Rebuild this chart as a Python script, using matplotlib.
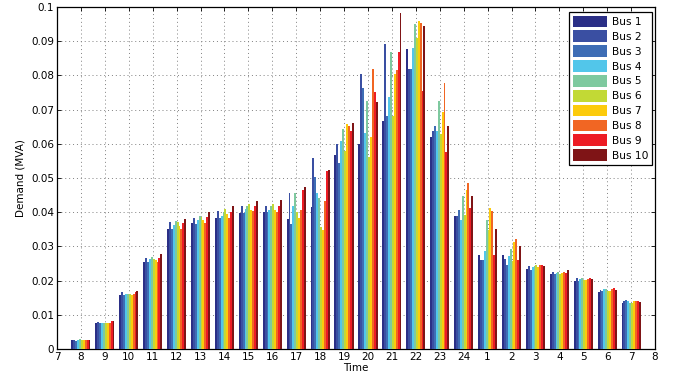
import numpy as np
import matplotlib
matplotlib.use('Agg')
import matplotlib.pyplot as plt

hours = ['8', '9', '10', '11', '12', '13', '14', '15', '16', '17', '18', '19',
         '20', '21', '22', '23', '24', '1', '2', '3', '4', '5', '6', '7']
tick_labels = ['7'] + hours + ['8']

bus_names = ['Bus %d' % i for i in range(1, 11)]
bus_colors = ['#2B2F86', '#3A4FA2', '#3E6DB5', '#52C6EA', '#7EC99F',
              '#C2D935', '#FCCB0C', '#F16623', '#ED1C24', '#7F1416']

# demand (MVA) per hour, one column per bus
demand = np.array([
    [0.0027, 0.0026, 0.0024, 0.0026, 0.0028, 0.0025, 0.0027, 0.0027, 0.0026, 0.0025],  # 8
    [0.0077, 0.0078, 0.0075, 0.0075, 0.0077, 0.0076, 0.0077, 0.0076, 0.0082, 0.0083],  # 9
    [0.0157, 0.0166, 0.0157, 0.0162, 0.0162, 0.0162, 0.0157, 0.0162, 0.0166, 0.0169],  # 10
    [0.0255, 0.0266, 0.0255, 0.0264, 0.0269, 0.0264, 0.0260, 0.0255, 0.0266, 0.0277],  # 11
    [0.0352, 0.0370, 0.0352, 0.0362, 0.0373, 0.0371, 0.0359, 0.0352, 0.0368, 0.0381],  # 12
    [0.0368, 0.0384, 0.0366, 0.0376, 0.0388, 0.0386, 0.0376, 0.0368, 0.0386, 0.0401],  # 13
    [0.0384, 0.0403, 0.0384, 0.0388, 0.0400, 0.0410, 0.0396, 0.0384, 0.0402, 0.0418],  # 14
    [0.0398, 0.0418, 0.0398, 0.0410, 0.0418, 0.0423, 0.0405, 0.0403, 0.0418, 0.0434],  # 15
    [0.0400, 0.0417, 0.0400, 0.0405, 0.0418, 0.0423, 0.0405, 0.0400, 0.0418, 0.0437],  # 16
    [0.0379, 0.0457, 0.0366, 0.0418, 0.0457, 0.0400, 0.0384, 0.0405, 0.0466, 0.0473],  # 17
    [0.0415, 0.0559, 0.0504, 0.0457, 0.0442, 0.0357, 0.0347, 0.0434, 0.0520, 0.0522],  # 18
    [0.0568, 0.0598, 0.0544, 0.0609, 0.0643, 0.0580, 0.0657, 0.0652, 0.0638, 0.0660],  # 19
    [0.0600, 0.0804, 0.0764, 0.0631, 0.0726, 0.0561, 0.0619, 0.0818, 0.0750, 0.0723],  # 20
    [0.0666, 0.0891, 0.0682, 0.0736, 0.0869, 0.0680, 0.0804, 0.0816, 0.0867, 0.0983],  # 21
    [0.0877, 0.0818, 0.0818, 0.0881, 0.0949, 0.0909, 0.0959, 0.0954, 0.0755, 0.0945],  # 22
    [0.0621, 0.0636, 0.0653, 0.0636, 0.0726, 0.0628, 0.0694, 0.0777, 0.0575, 0.0653],  # 23
    [0.0388, 0.0388, 0.0405, 0.0376, 0.0446, 0.0391, 0.0466, 0.0486, 0.0413, 0.0447],  # 24
    [0.0274, 0.0261, 0.0259, 0.0286, 0.0376, 0.0347, 0.0413, 0.0403, 0.0274, 0.0352],  # 1
    [0.0276, 0.0264, 0.0245, 0.0271, 0.0293, 0.0258, 0.0313, 0.0321, 0.0261, 0.0300],  # 2
    [0.0235, 0.0243, 0.0232, 0.0240, 0.0243, 0.0245, 0.0240, 0.0247, 0.0245, 0.0243],  # 3
    [0.0218, 0.0225, 0.0218, 0.0221, 0.0225, 0.0218, 0.0221, 0.0225, 0.0221, 0.0230],  # 4
    [0.0199, 0.0208, 0.0199, 0.0206, 0.0209, 0.0203, 0.0203, 0.0206, 0.0209, 0.0206],  # 5
    [0.0167, 0.0172, 0.0170, 0.0174, 0.0175, 0.0170, 0.0170, 0.0174, 0.0177, 0.0172],  # 6
    [0.0133, 0.0140, 0.0143, 0.0140, 0.0133, 0.0133, 0.0141, 0.0141, 0.0141, 0.0138],  # 7
])

plt.rcParams['font.family'] = 'DejaVu Sans'

fig = plt.figure(figsize=(6.73, 3.86), dpi=100)
ax = fig.add_axes([0.0847, 0.0959, 0.8886, 0.886])

x = np.arange(1, len(hours) + 1)
nbus = len(bus_names)
group_w = 0.8
bar_w = group_w / nbus
for ib in range(nbus):
    offs = -group_w / 2 + bar_w * (ib + 0.5)
    ax.bar(x + offs, demand[:, ib], width=bar_w, color=bus_colors[ib],
           edgecolor='none', label=bus_names[ib], zorder=3)

ax.set_xlim(0, len(hours) + 1)
ax.set_ylim(0, 0.1)
ax.set_xticks(np.arange(0, len(hours) + 2))
ax.set_xticklabels(tick_labels)
ax.set_yticks(np.arange(0, 0.1001, 0.01))
ax.set_yticklabels(['0'] + ['%g' % v for v in np.arange(0.01, 0.1001, 0.01)])
ax.tick_params(direction='in', top=True, right=True, labelsize=7.5, length=3,
               width=0.6, pad=2)
ax.grid(True, linestyle=(0, (1, 3)), color='0.5', linewidth=0.7, zorder=0)
for sp in ax.spines.values():
    sp.set_linewidth(0.9)

ax.set_xlabel('Time', fontsize=7.5, labelpad=1)
ax.set_ylabel('Demand (MVA)', fontsize=7.5, labelpad=4)

leg = ax.legend(loc='upper right', fontsize=7.7, handlelength=3.2, handleheight=1.3,
                labelspacing=0.3, borderpad=0.35, handletextpad=0.45,
                borderaxespad=0, fancybox=False, framealpha=1, edgecolor='black',
                bbox_to_anchor=(0.995, 0.986))
leg.get_frame().set_linewidth(0.9)

fig.savefig('out.png', dpi=100)
